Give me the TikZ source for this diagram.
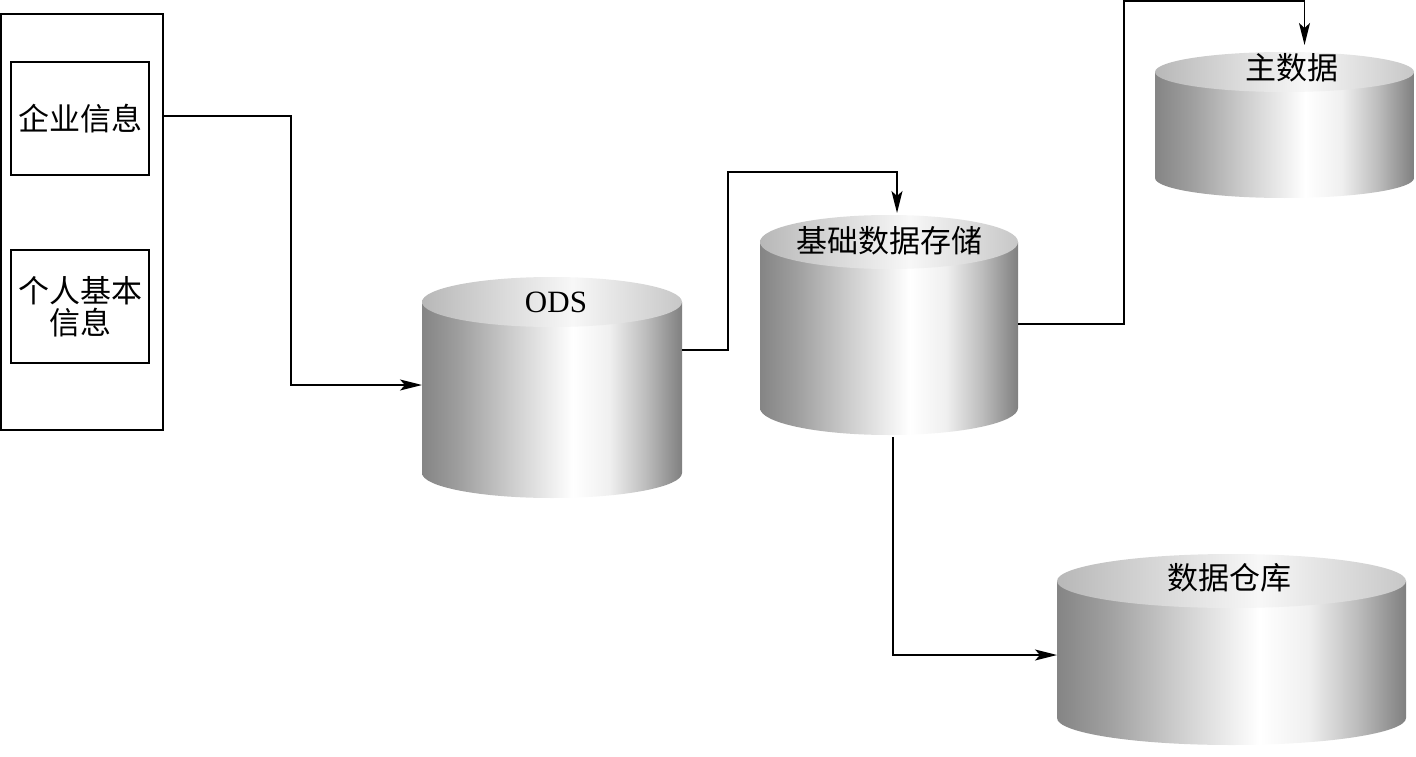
\documentclass[tikz,border=0pt]{standalone}
\usepackage{fontspec}
\setmainfont{Liberation Serif}
\newfontfamily\cjk{Noto Sans CJK SC}
\usetikzlibrary{arrows.meta,calc}
\pgfdeclarehorizontalshading{cylside}{100bp}{color(0bp)=(black!48); color(25bp)=(black!48); color(32bp)=(black!38); color(42bp)=(black!20); color(54bp)=(white); color(61bp)=(black!6); color(68bp)=(black!26); color(75bp)=(black!50); color(100bp)=(black!50)}
\pgfdeclarehorizontalshading{cyltop}{100bp}{color(0bp)=(black!28); color(25bp)=(black!28); color(54bp)=(black!3); color(75bp)=(black!22); color(100bp)=(black!22)}
\newcommand\dbcyl[5]{%
  \shade[shading=cylside] (#1,#3) -- (#1,#4) arc[start angle=180,end angle=0,x radius={(#2-#1)/2},y radius=#5] -- (#2,#3) -- cycle;
  \shade[shading=cyltop] ({(#1+#2)/2},#3) ellipse[x radius={(#2-#1)/2},y radius=#5];
}
\begin{document}
\begin{tikzpicture}[x=1pt,y=-1pt,
  box/.style={draw, line width=2.8pt, inner sep=0pt},
  conn/.style={line width=1.8pt, -{Stealth[length=22pt,width=11pt,inset=5pt]}},
  dbnode/.style={inner sep=0pt, outer sep=0pt},
  lbl/.style={font=\fontsize{31}{34}\selectfont, inner sep=0pt, align=center}]
\useasboundingbox (0,0) rectangle (1416,757);

% source boxes
\node[box, minimum width=162pt, minimum height=416pt] (outer) at (82,222) {};
\node[box, lbl, minimum width=138pt, minimum height=113pt] (ent) at (80,118.5) {\cjk 企业信息};
\node[box, lbl, minimum width=138pt, minimum height=113pt] (per) at (80,306.5) {\cjk 个人基本\\[-2pt]\cjk 信息};

% cylinders
\dbcyl{422}{682}{302}{473}{25}
\node[dbnode, minimum width=260pt, minimum height=221pt] (ods) at (552,387.5) {};
\node[lbl] (odsl) at (556,302) {ODS};

\dbcyl{760}{1018}{242}{408}{27}
\node[dbnode, minimum width=258pt, minimum height=220pt] (base) at (889,325) {};
\node[lbl] (basel) at (889,241) {\cjk 基础数据存储};

\dbcyl{1155}{1414}{72}{178}{20}
\node[dbnode, minimum width=259pt, minimum height=146pt] (master) at (1284.5,125) {};
\node[lbl] (masterl) at (1292,68) {\cjk 主数据};

\dbcyl{1057}{1406}{581}{718}{27}
\node[dbnode, minimum width=349pt, minimum height=191pt] (wh) at (1231.5,649.5) {};
\node[lbl] (whl) at (1229,578) {\cjk 数据仓库};

% connectors
\coordinate (b1) at (291,116);
\draw[conn] (outer.east |- b1) -- (b1) |- ($(ods.west)+(0,-2.5)$);

\coordinate (b2) at (728,172);
\draw[conn] ($(ods.east)+(0,-37.5)$) -| (b2) -| ($(base.north)+(8,-2)$);

\coordinate (b3) at (1124,1);
\draw[conn] ($(base.east)+(0,-1)$) -| (b3) -| ($(master.north)+(20,-7)$);

\draw[conn] ($(base.south)+(4,2)$) |- ($(wh.west)+(0,5.5)$);
\end{tikzpicture}
\end{document}
